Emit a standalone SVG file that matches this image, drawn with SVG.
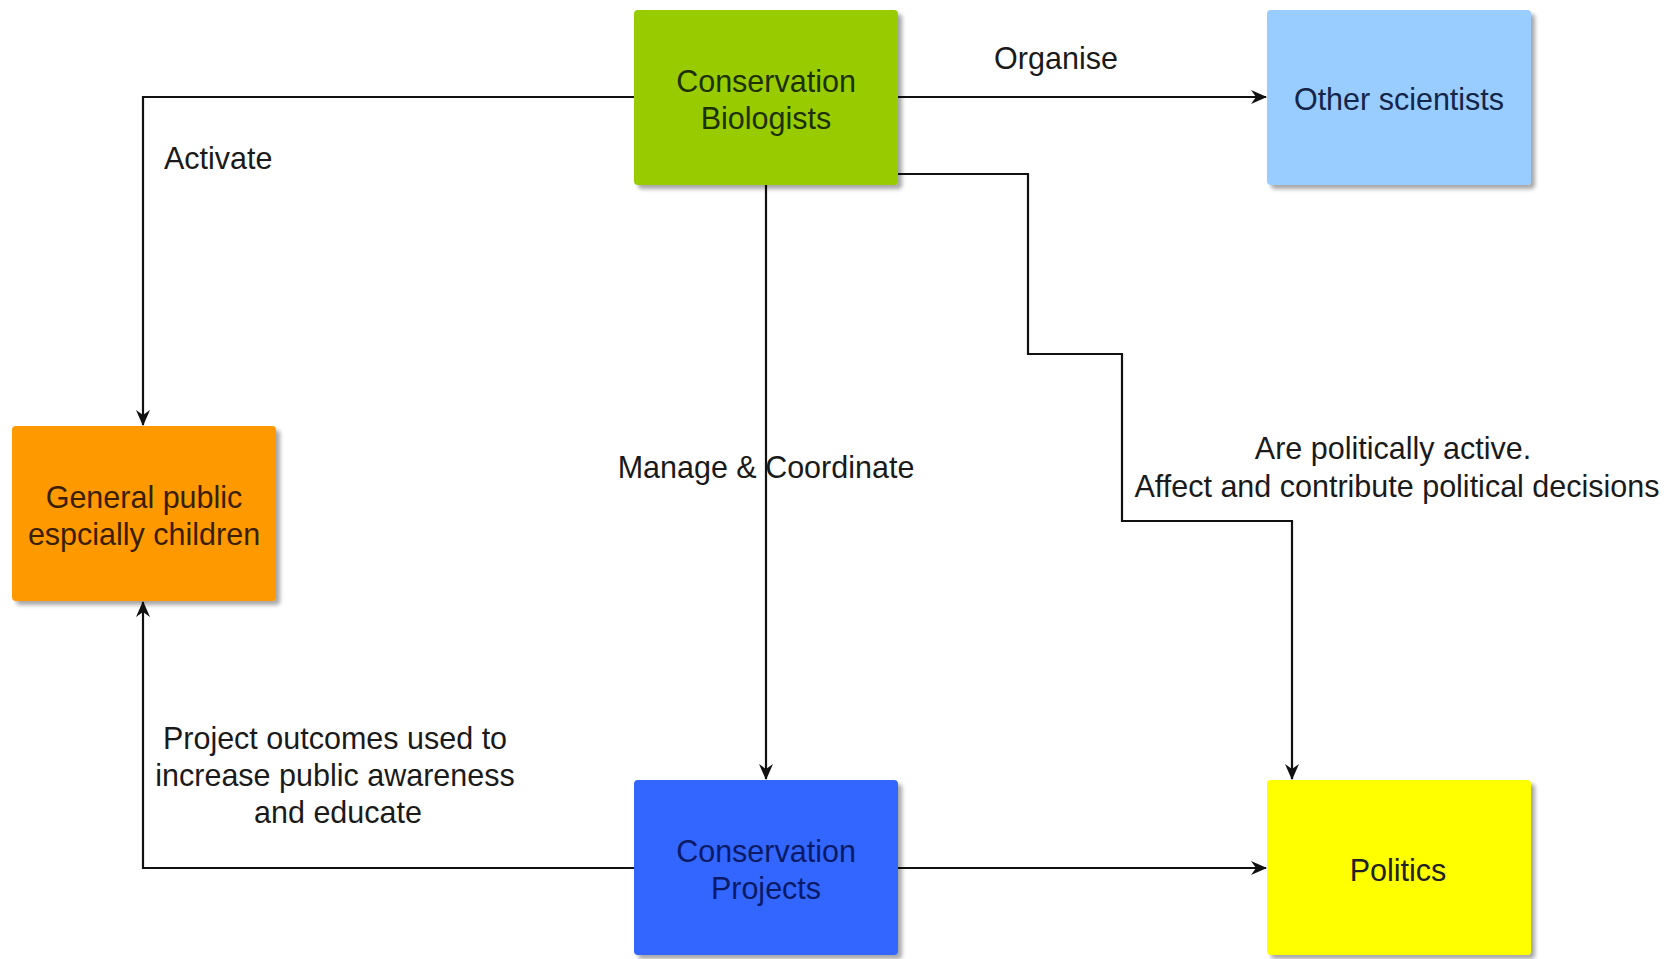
<svg xmlns="http://www.w3.org/2000/svg" width="1677" height="959" viewBox="0 0 1677 959">
<defs>
<marker id="arr" viewBox="0 0 16 14" refX="15" refY="7" markerWidth="16" markerHeight="14" markerUnits="userSpaceOnUse" orient="auto">
<path d="M0,0 L16,7 L0,14 L5,7 Z" fill="#111"/>
</marker>
<filter id="sh" x="-10%" y="-10%" width="130%" height="130%">
<feGaussianBlur in="SourceAlpha" stdDeviation="2"/>
<feOffset dx="4" dy="4" result="b"/>
<feComponentTransfer><feFuncA type="linear" slope="0.35"/></feComponentTransfer>
<feMerge><feMergeNode/><feMergeNode in="SourceGraphic"/></feMerge>
</filter>
</defs>
<style>
.box{filter:url(#sh);}
.t{font-family:"Liberation Sans",Arial,sans-serif;font-size:30.5px;text-anchor:middle;}
.lbl{font-family:"Liberation Sans",Arial,sans-serif;font-size:30.5px;fill:#1a1a1a;}
.c{fill:none;stroke:#111;stroke-width:2.2;marker-end:url(#arr);}
</style>
<rect width="1677" height="959" fill="#fff"/>
<g id="connectors">
<path class="c" d="M634,97 H143 V425"/>
<path class="c" d="M898,97 H1266"/>
<path class="c" d="M766,185 V779"/>
<path class="c" d="M898,174 H1028 V354 H1122 V521 H1292 V779"/>
<path class="c" d="M634,868 H143 V602"/>
<path class="c" d="M898,868 H1266"/>
</g>
<g id="labels">
<text class="lbl" x="1056" y="69" text-anchor="middle">Organise</text>
<text class="lbl" x="164" y="169">Activate</text>
<text class="lbl" x="766" y="478" text-anchor="middle">Manage &amp; Coordinate</text>
<text class="lbl" x="1393" y="459" text-anchor="middle">Are politically active.</text>
<text class="lbl" x="1397" y="497" text-anchor="middle">Affect and contribute political decisions</text>
<text class="lbl" x="335" y="749" text-anchor="middle">Project outcomes used to</text>
<text class="lbl" x="335" y="786" text-anchor="middle">increase public awareness</text>
<text class="lbl" x="338" y="823" text-anchor="middle">and educate</text>
</g>
<g id="node-biologists">
<rect class="box" x="634" y="10" width="264" height="175" rx="4" fill="#99cc00"/>
<text class="t" x="766" y="92" fill="#1c3000">Conservation</text>
<text class="t" x="766" y="129" fill="#1c3000">Biologists</text>
</g>
<g id="node-scientists">
<rect class="box" x="1267" y="10" width="264" height="175" rx="4" fill="#99ccff"/>
<text class="t" x="1399" y="110" fill="#14254a">Other scientists</text>
</g>
<g id="node-public">
<rect class="box" x="12" y="426" width="264" height="175" rx="4" fill="#ff9900"/>
<text class="t" x="144" y="508" fill="#3a1e00">General public</text>
<text class="t" x="144" y="545" fill="#3a1e00">espcially children</text>
</g>
<g id="node-projects">
<rect class="box" x="634" y="780" width="264" height="175" rx="4" fill="#3366ff"/>
<text class="t" x="766" y="862" fill="#0c1a66">Conservation</text>
<text class="t" x="766" y="899" fill="#0c1a66">Projects</text>
</g>
<g id="node-politics">
<rect class="box" x="1267" y="780" width="264" height="175" rx="4" fill="#ffff00"/>
<text class="t" x="1398" y="881" fill="#222">Politics</text>
</g>
</svg>
